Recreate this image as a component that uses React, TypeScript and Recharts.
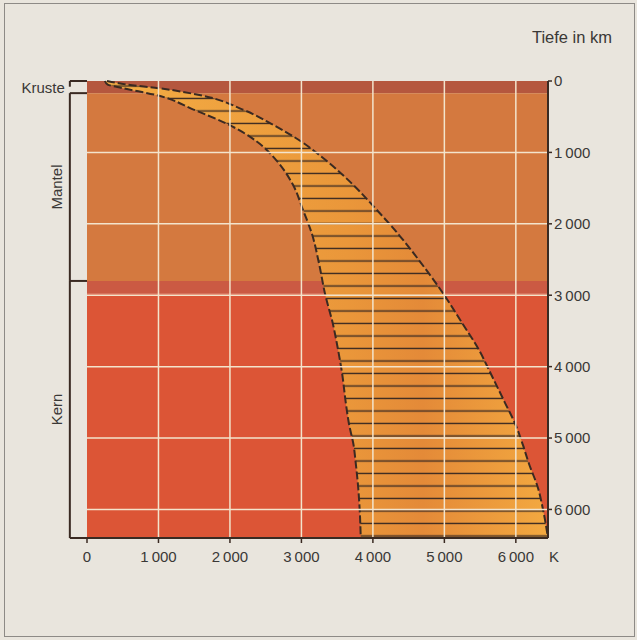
import { ComposedChart, Area, XAxis, YAxis, ReferenceArea, ReferenceLine } from 'recharts';

// depth in km
const depthKm = [0, 50, 100, 200, 400, 600, 850, 1100, 1450, 1800, 2150, 2550, 3000, 3400, 3750, 4100, 4500, 4800, 5100, 5350, 5700, 6000, 6400];
// lower and upper temperature estimate in K
const tempLow = [250, 290, 500, 980, 1490, 1960, 2380, 2640, 2880, 3020, 3150, 3245, 3335, 3440, 3510, 3570, 3620, 3665, 3730, 3760, 3795, 3815, 3830];
const tempHigh = [280, 560, 1000, 1590, 2180, 2580, 3000, 3330, 3720, 4050, 4360, 4675, 5000, 5255, 5475, 5650, 5845, 5990, 6100, 6180, 6310, 6380, 6450];

const tempTicks = [0, 1000, 2000, 3000, 4000, 5000, 6000];
const depthTicks = [0, 1000, 2000, 3000, 4000, 5000, 6000];

// layer boundaries (km) as drawn
const crust = [0, 170];
const mantle = [170, 2800];
const transition = [2800, 2980];
const core = [2980, 6400];

const data = depthKm.map((d, i) => ({ depth: d, range: [tempLow[i], tempHigh[i]] }));

const fmt = (v: number) =>
  v < 1000 ? String(v) : `${Math.floor(v / 1000)}\u2009${String(v % 1000).padStart(3, '0')}`;

const ink = '#3a2a22';
const gridColor = '#f3e4cc';
const textColor = '#3a3836';
const bracketX = -240;

export default function App() {
  return (
    <div
      style={{
        position: 'absolute',
        left: 0,
        top: 0,
        width: 637,
        height: 640,
        background: '#e9e5dd',
        fontFamily: '"Liberation Sans", Arial, sans-serif',
      }}
    >
      <div
        style={{
          position: 'absolute',
          left: 4,
          top: 3,
          width: 629,
          height: 632,
          border: '1px solid #8d8a86',
        }}
      />
      <div style={{ position: 'absolute', left: 0, top: 0 }}>
        <ComposedChart
          layout="vertical"
          width={637}
          height={640}
          data={data}
          margin={{ top: 81, right: 29, bottom: 68, left: 87 }}
        >
          <defs>
            <pattern id="hatch" patternUnits="userSpaceOnUse" width={8} height={12.5}>
              <line x1={0} y1={11} x2={8} y2={11} stroke={ink} strokeWidth={1.4} />
            </pattern>
            <linearGradient id="bandFill" gradientUnits="userSpaceOnUse" x1={100} y1={0} x2={548} y2={0}>
              <stop offset="0%" stopColor="#f4ae44" />
              <stop offset="55%" stopColor="#ea973a" />
              <stop offset="72%" stopColor="#e48a38" />
              <stop offset="100%" stopColor="#f3a940" />
            </linearGradient>
          </defs>
          <XAxis
            type="number"
            domain={[0, 6450]}
            ticks={tempTicks}
            tickFormatter={fmt}
            height={34}
            tickSize={5}
            tickMargin={8}
            axisLine={{ stroke: ink, strokeWidth: 2 }}
            tickLine={{ stroke: ink, strokeWidth: 1.5 }}
            tick={{ fontSize: 15, fill: textColor }}
            label={{
              content: ({ viewBox }: any) => (
                <text x={viewBox.x + viewBox.width + 1} y={viewBox.y + 24} fontSize={15} fill={textColor}>
                  K
                </text>
              ),
            }}
          />
          <YAxis
            type="number"
            dataKey="depth"
            orientation="right"
            domain={[0, 6400]}
            ticks={depthTicks}
            tickFormatter={fmt}
            width={60}
            tickSize={4}
            tickMargin={2}
            axisLine={{ stroke: ink, strokeWidth: 2 }}
            tickLine={{ stroke: ink, strokeWidth: 1.5 }}
            tick={{ fontSize: 15, fill: textColor }}
            label={{
              content: ({ viewBox }: any) => (
                <text x={viewBox.x + 64} y={viewBox.y - 38} textAnchor="end" fontSize={16.5} fill={textColor}>
                  Tiefe in km
                </text>
              ),
            }}
          />

          <ReferenceArea y1={crust[0]} y2={crust[1]} fill="#b5573e" fillOpacity={1} stroke="none" />
          <ReferenceArea y1={mantle[0]} y2={mantle[1]} fill="#d4793f" fillOpacity={1} stroke="none" />
          <ReferenceArea y1={transition[0]} y2={transition[1]} fill="#cb5a43" fillOpacity={1} stroke="none" />
          <ReferenceArea y1={core[0]} y2={core[1]} fill="#dc5536" fillOpacity={1} stroke="none" />

          <Area
            dataKey="range"
            type="monotone"
            fill="url(#bandFill)"
            fillOpacity={1}
            stroke="none"
            isAnimationActive={false}
          />
          <Area
            dataKey="range"
            type="monotone"
            fill="url(#hatch)"
            fillOpacity={1}
            stroke={ink}
            strokeWidth={2}
            strokeDasharray="8 3"
            isAnimationActive={false}
          />

          {tempTicks.slice(1).map((t) => (
            <ReferenceLine key={'x' + t} x={t} stroke={gridColor} strokeWidth={1.5} />
          ))}
          {depthTicks.slice(1).map((d) => (
            <ReferenceLine key={'y' + d} y={d} stroke={gridColor} strokeWidth={1.5} />
          ))}

          {/* layer brackets on the left */}
          <ReferenceLine
            segment={[{ x: bracketX, y: crust[0] }, { x: 0, y: crust[0] }]}
            ifOverflow="visible"
            stroke={ink}
            strokeWidth={2}
          />
          <ReferenceLine
            segment={[{ x: bracketX, y: crust[0] }, { x: bracketX, y: 80 }]}
            ifOverflow="visible"
            stroke={ink}
            strokeWidth={2}
            label={{
              content: ({ viewBox }: any) => (
                <text x={viewBox.x - 5} y={viewBox.y + 12} textAnchor="end" fontSize={15} fill={textColor}>
                  Kruste
                </text>
              ),
            }}
          />
          <ReferenceLine
            segment={[{ x: bracketX, y: mantle[0] }, { x: 0, y: mantle[0] }]}
            ifOverflow="visible"
            stroke={ink}
            strokeWidth={2}
          />
          <ReferenceLine
            segment={[{ x: bracketX, y: mantle[0] }, { x: bracketX, y: mantle[1] }]}
            ifOverflow="visible"
            stroke={ink}
            strokeWidth={2}
            label={{
              content: ({ viewBox }: any) => {
                const cx = viewBox.x - 8;
                const cy = viewBox.y + viewBox.height / 2;
                return (
                  <text x={cx} y={cy} textAnchor="middle" fontSize={15} fill={textColor} transform={`rotate(-90 ${cx} ${cy})`}>
                    Mantel
                  </text>
                );
              },
            }}
          />
          <ReferenceLine
            segment={[{ x: bracketX, y: mantle[1] }, { x: 0, y: mantle[1] }]}
            ifOverflow="visible"
            stroke={ink}
            strokeWidth={2}
          />
          <ReferenceLine
            segment={[{ x: bracketX, y: mantle[1] }, { x: bracketX, y: core[1] }]}
            ifOverflow="visible"
            stroke={ink}
            strokeWidth={2}
            label={{
              content: ({ viewBox }: any) => {
                const cx = viewBox.x - 8;
                const cy = viewBox.y + viewBox.height / 2;
                return (
                  <text x={cx} y={cy} textAnchor="middle" fontSize={15} fill={textColor} transform={`rotate(-90 ${cx} ${cy})`}>
                    Kern
                  </text>
                );
              },
            }}
          />
          <ReferenceLine
            segment={[{ x: bracketX, y: core[1] }, { x: 0, y: core[1] }]}
            ifOverflow="visible"
            stroke={ink}
            strokeWidth={2}
          />
        </ComposedChart>
      </div>
    </div>
  );
}
